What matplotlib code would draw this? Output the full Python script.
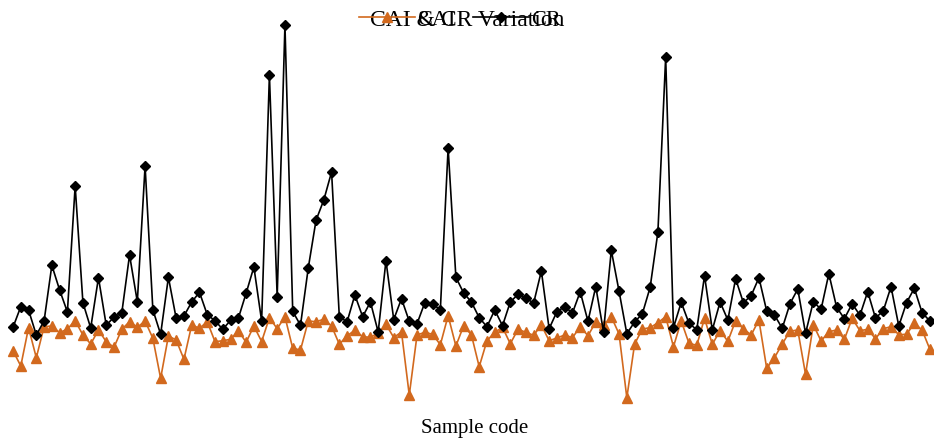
import matplotlib
matplotlib.use("Agg")
import matplotlib.pyplot as plt
import numpy as np

# Values (arbitrary linear units, no axis shown)
cr = [327.3, 306.7, 310, 335, 321, 265.3, 290, 312, 186, 302.7,
      328, 277.7, 325.3, 317, 313, 255, 301.7, 166, 309.7, 334.3,
      277.3, 318.3, 316, 302, 292.3, 314.7, 320.7, 329.3, 320.3, 318.3,
      293.3, 267, 321, 75, 296.7, 25, 311.3, 325.3, 268, 220.3,
      200, 172, 317, 321.7, 295, 316.7, 302, 332, 260.7, 319.5,
      298.7, 321.3, 323.7, 302.7, 304.3, 309.7, 148, 277.3, 293, 302,
      317.7, 326.7, 310, 325.7, 302, 294.3, 297.7, 303.3, 271, 328.7,
      311.7, 306.7, 313, 291.7, 321.3, 286.7, 331.7, 250.3, 291.3, 333.7,
      322, 313.7, 287.3, 232, 57, 327.7, 302.3, 323.3, 329.7, 275.7,
      330, 302, 320, 278.7, 302.7, 295.7, 277.7, 311, 315, 328.3,
      303.7, 289, 333.3, 301.7, 309.3, 273.7, 307.3, 318.7, 303.7, 315.3,
      291.7, 318, 311, 286.7, 326, 302.7, 288.3, 312.7, 321]
cai = [350.7, 366, 327.7, 357.7, 326.7, 326, 332.7, 329, 320.7, 335,
       344, 330, 341.7, 347.3, 329.3, 321.7, 327.3, 321, 338.3, 378.3,
       336, 340, 359.3, 325, 328.3, 321.7, 341.7, 340.7, 339.3, 330.7,
       342.3, 326, 341.5, 317.7, 328.7, 316.7, 348.3, 350, 321, 321.7,
       319.3, 326, 344.3, 335.7, 330.3, 336.7, 337.3, 333, 324.3, 337.5,
       332, 395, 335, 332.3, 334.3, 344.7, 315.7, 346, 325.7, 335,
       366.7, 340.7, 332.3, 327.3, 343.7, 329.3, 332.3, 335.3, 325, 340.7,
       338, 335, 337.7, 326.7, 335.7, 322, 325.3, 316.7, 334, 397.7,
       344, 329, 327.7, 322.7, 316.7, 346.7, 321, 343.3, 345.3, 318.3,
       344.3, 330.7, 341.3, 320.7, 328.7, 335, 320, 368.3, 357.7, 344,
       331.2, 330, 374.3, 324.7, 341, 331.7, 330, 339.3, 318.3, 330.7,
       329.3, 338.7, 328.7, 326.7, 334.7, 334.3, 323.3, 330, 349.3]

# convert picture readings into upward values
cr_vals = [(400 - v) / 100 for v in cr]
cai_vals = [(400 - v) / 100 for v in cai]
samples = np.arange(len(cr_vals))

plt.rcParams['font.family'] = ['Liberation Serif', 'DejaVu Serif']

fig = plt.figure(figsize=(9.34, 4.41), dpi=100)
ax = fig.add_axes([0, 0, 1, 1])
ax.plot(samples, cai_vals, color='#D2691E', marker='^', markersize=7,
        linewidth=1.2, label='CAI')
ax.plot(samples, cr_vals, color='black', marker='D', markersize=5,
        linewidth=1.2, label='CR')
ax.set_xlim(-13 / 7.77, (934 - 13) / 7.77)
ax.set_ylim(-0.41, 4.0)
ax.axis('off')

fig.text(0.5, 1 - 20 / 441, 'CAI & CR Variation', ha='center', va='center',
         fontsize=17)
fig.text(475 / 934, 1 - 429 / 441, 'Sample code', ha='center', va='center',
         fontsize=15)
fig.legend(loc='center', bbox_to_anchor=(460 / 934, 1 - 20 / 441), ncol=2,
           frameon=False, fontsize=16, handlelength=2.5, columnspacing=0.8,
           handletextpad=0.1, borderpad=0)

fig.savefig('out.png', dpi=100)
